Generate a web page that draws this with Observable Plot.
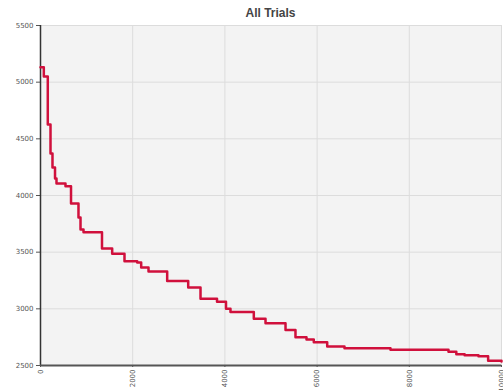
<!DOCTYPE html>
<html>
<head>
<meta charset="utf-8">
<script src="https://cdn.jsdelivr.net/npm/d3@7"></script>
<script src="https://cdn.jsdelivr.net/npm/@observablehq/plot@0.6"></script>
<style>
  html, body { margin: 0; padding: 0; background: #fff; }
  #title { height: 20px; width: 461px; margin-left: 40px; text-align: center;
           font: bold 12px "Liberation Sans", Arial, sans-serif; line-height: 27px; color: #444; overflow: visible; }
</style>
</head>
<body>
<div id="title">All Trials</div>
<div id="chart"></div>
<script>
const trial = [0,72,158,217,260,315,347,542,662,824,868,933,1334,1555,1822,2098,2184,2343,2748,3204,3471,3829,4024,4121,4627,4881,5315,5531,5770,5928,6219,6594,7592,8850,9020,9200,9500,9710,10000];
const best  = [5132,5050,4626,4370,4247,4150,4105,4082,3929,3805,3700,3676,3532,3485,3420,3408,3364,3330,3245,3188,3090,3062,3000,2972,2912,2873,2814,2749,2730,2705,2668,2652,2638,2622,2600,2590,2582,2542,2535];
const xTicks = [0,2000,4000,6000,8000,10000];
const yTicks = [2500,3000,3500,4000,4500,5000,5500];

const data = trial.map((t, i) => ({trial: t, best: best[i]}));
const fmt = d => String(d);

const chart = Plot.plot({
  width: 503,
  height: 370,
  marginLeft: 40,
  marginRight: 2,
  marginTop: 5,
  marginBottom: 25,
  style: {fontFamily: "DejaVu Sans, Verdana, sans-serif", fontSize: "7px", color: "#555", background: "#fff"},
  x: {domain: [0, 10000], label: null},
  y: {domain: [2500, 5500], label: null},
  marks: [
    Plot.frame({fill: "#f3f3f3", stroke: null}),
    Plot.gridX(xTicks, {stroke: "#dcdcdc", strokeOpacity: 1}),
    Plot.gridY(yTicks, {stroke: "#dcdcdc", strokeOpacity: 1}),
    Plot.axisX({ticks: xTicks, tickFormat: fmt, tickRotate: -90, tickSize: 2, tickPadding: 2, fill: "#555", stroke: "#555", label: null}),
    Plot.axisY({ticks: yTicks, tickFormat: fmt, tickSize: 4, tickPadding: 3, fill: "#555", stroke: "#555", label: null}),
    Plot.ruleX([0], {stroke: "#333", strokeWidth: 1.5}),
    Plot.ruleY([2500], {stroke: "#555", strokeWidth: 2}),
    Plot.line(data, {x: "trial", y: "best", curve: "step-after", stroke: "#d0103c", strokeWidth: 2.5})
  ]
});
document.getElementById("chart").appendChild(chart);
</script>
</body>
</html>
